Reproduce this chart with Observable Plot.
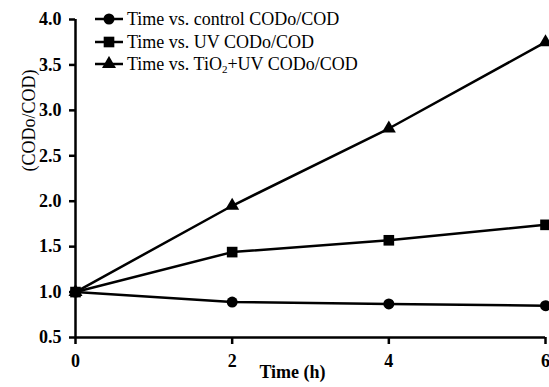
<!DOCTYPE html>
<html><head><meta charset="utf-8">
<script src="https://cdn.jsdelivr.net/npm/d3@7"></script>
<script src="https://cdn.jsdelivr.net/npm/@observablehq/plot@0.6"></script>
<style>
body{margin:0;background:#fff;}
#wrap{position:relative;width:549px;height:387px;font-family:'Liberation Serif','DejaVu Serif',serif;color:#000;}
#legend{position:absolute;left:94px;top:8px;font-size:18px;line-height:22.5px;}
.row{display:flex;align-items:center;height:22.5px;white-space:nowrap;}
.row svg{margin-right:2px;}
sub{font-size:11px;vertical-align:-3px;line-height:0;}
svg text{font-family:'Liberation Serif','DejaVu Serif',serif;}
</style></head><body><div id="wrap"><div id="chart"></div><div id="legend"></div></div>
<script>
const times = [0, 2, 4, 6];
const control = [1.00, 0.89, 0.87, 0.85];
const uv = [1.00, 1.44, 1.57, 1.74];
const tio2 = [1.00, 1.95, 2.80, 3.75];
const seriesKeys = ["control", "uv", "tio2"];
const seriesLabels = ["Time vs. control CODo/COD", "Time vs. UV CODo/COD", "Time vs. TiO<sub>2</sub>+UV CODo/COD"];
const seriesSymbols = ["circle", "square", "triangle"];
const xTicks = [0, 2, 4, 6];
const yTicks = [0.5, 1.0, 1.5, 2.0, 2.5, 3.0, 3.5, 4.0];
const xLabel = "Time (h)";
const yLabel = "(CODo/COD)";

const values = {control, uv, tio2};
const rows = seriesKeys.flatMap((k, i) => times.map((t, j) => ({series: k, symbol: seriesSymbols[i], t, v: values[k][j]})));
const symR = {circle: 5.5, square: 6, triangle: 5.2};

const font = "'Liberation Serif', 'DejaVu Serif', serif";
const plot = Plot.plot({
  width: 549, height: 387,
  marginLeft: 75, marginRight: 4, marginTop: 19, marginBottom: 50,
  style: {fontFamily: font, fontSize: "18px", fontWeight: "bold", color: "#000", background: "#fff", overflow: "visible"},
  x: {domain: [0, 6]},
  y: {domain: [0.5, 4.0]},
  marks: [
    Plot.axisX({ticks: xTicks, tickFormat: d => String(d), tickSize: 7, tickPadding: 10, strokeWidth: 2.5, label: null, fontSize: 18, fontWeight: "bold"}),
    Plot.axisY({ticks: yTicks, tickFormat: d => d.toFixed(1), tickSize: 6, tickPadding: 8, strokeWidth: 2.5, label: null, fontSize: 18, fontWeight: "bold"}),
    Plot.ruleX([0], {stroke: "#000", strokeWidth: 2.5}),
    Plot.ruleY([0.5], {stroke: "#000", strokeWidth: 2.5}),
    Plot.line(rows, {x: "t", y: "v", z: "series", stroke: "#000", strokeWidth: 2.5}),
    ...seriesSymbols.map(s => Plot.dot(rows.filter(d => d.symbol === s), {x: "t", y: "v", symbol: () => s, r: symR[s], fill: "#000", stroke: "none"})),
    Plot.text([xLabel], {frameAnchor: "bottom", dy: 40, dx: -18, fontSize: 18, fontWeight: "bold", fill: "#000"}),
    Plot.text([yLabel], {frameAnchor: "left", rotate: -90, dx: -46, dy: -7, fontSize: 18, fontWeight: "normal", fill: "#000"})
  ]
});
document.getElementById("chart").appendChild(plot);

const leg = d3.select("#legend");
seriesLabels.forEach((lab, i) => {
  const row = leg.append("div").attr("class", "row");
  const svg = row.append("svg").attr("width", 31).attr("height", 16);
  svg.append("line").attr("x1", 1).attr("x2", 29).attr("y1", 8).attr("y2", 8).attr("stroke", "#000").attr("stroke-width", 2.5);
  const sym = {circle: d3.symbolCircle, square: d3.symbolSquare, triangle: d3.symbolTriangle}[seriesSymbols[i]];
  const r = symR[seriesSymbols[i]];
  svg.append("path").attr("transform", "translate(15,8)").attr("d", d3.symbol(sym, Math.PI * r * r)()).attr("fill", "#000");
  row.append("span").html(lab);
});
</script></body></html>
